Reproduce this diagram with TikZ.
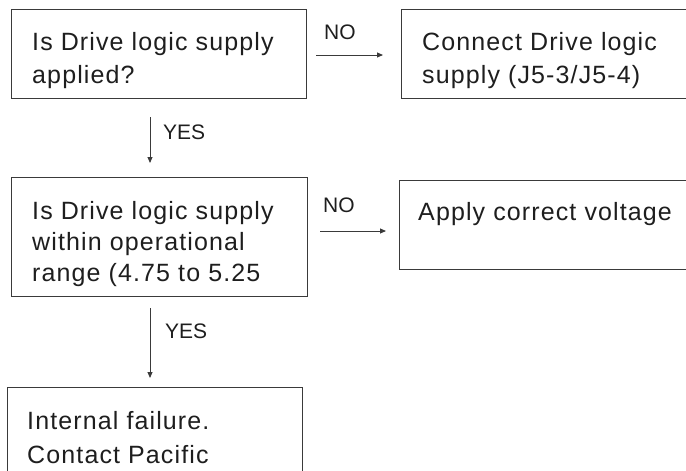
\documentclass[tikz,border=0pt]{standalone}
\usepackage{fontspec}
\setmainfont{Liberation Sans}[LetterSpace=4.5]
\newfontfamily\lblfont{Liberation Sans}
\usetikzlibrary{arrows.meta}
\definecolor{linec}{HTML}{3A3A3A}
\definecolor{textc}{HTML}{1E1E1E}
\begin{document}
\begin{tikzpicture}[x=1pt,y=-1pt,
  box/.style={draw=linec, line width=0.9pt, inner sep=0pt, outer sep=0pt},
  txt/.style={anchor=base west, inner sep=0pt, text=textc, font=\fontsize{25}{33}\selectfont},
  lbl/.style={anchor=base west, inner sep=0pt, text=textc, font=\lblfont\fontsize{21}{24}\selectfont},
  arr/.style={draw=linec, line width=0.9pt, -{Triangle[length=6pt,width=5pt]}}]
\useasboundingbox (0,0) rectangle (686,471);
\clip (0,0) rectangle (686,471);
\node[box, minimum width=295pt, minimum height=89pt] (b1) at (158.5,53.5) {};
\node[box, minimum width=319pt, minimum height=89pt] (b2) at (560.5,53.5) {};
\node[box, minimum width=296pt, minimum height=119pt] (b3) at (159,236.5) {};
\node[box, minimum width=321pt, minimum height=89pt] (b4) at (559.5,224.5) {};
\node[box, minimum width=295pt, minimum height=153pt] (b5) at (154.5,463.5) {};
\node[txt] (t1) at (32,50) {\vtop{\baselineskip=33pt\hbox{Is Drive logic supply}\hbox{applied?}}};
\node[txt] (t2) at (422,50) {\vtop{\baselineskip=33pt\hbox{Connect Drive logic}\hbox{supply (J5-3/J5-4)}}};
\node[txt] (t3) at (32,219) {\vtop{\baselineskip=31pt\hbox{Is Drive logic supply}\hbox{within operational}\hbox{range (4.75 to 5.25}}};
\node[txt] (t4) at (418,220) {Apply correct voltage};
\node[txt] (t5) at (27,429) {\vtop{\baselineskip=34pt\hbox{Internal failure.}\hbox{Contact Pacific}}};
\node[lbl] (n1) at (324,39) {NO};
\node[lbl] (n2) at (323,212) {NO};
\node[lbl] (y1) at (163,139) {YES};
\node[lbl] (y2) at (165,338) {YES};
\draw[arr, shorten <=10pt, shorten >=18pt] ([yshift=-1.5pt]b1.east) -- ([yshift=-1.5pt]b1.east -| b2.west);
\draw[arr, shorten <=13pt, shorten >=13pt] ([yshift=5.5pt]b3.east) -- ([yshift=5.5pt]b3.east -| b4.west);
\draw[arr, shorten <=19pt, shorten >=14pt] ([xshift=-8.5pt]b1.south) -- ([xshift=-8.5pt]b1.south |- b3.north);
\draw[arr, shorten <=12pt, shorten >=9pt] ([xshift=-9pt]b3.south) -- ([xshift=-9pt]b3.south |- b5.north);
\end{tikzpicture}
\end{document}
